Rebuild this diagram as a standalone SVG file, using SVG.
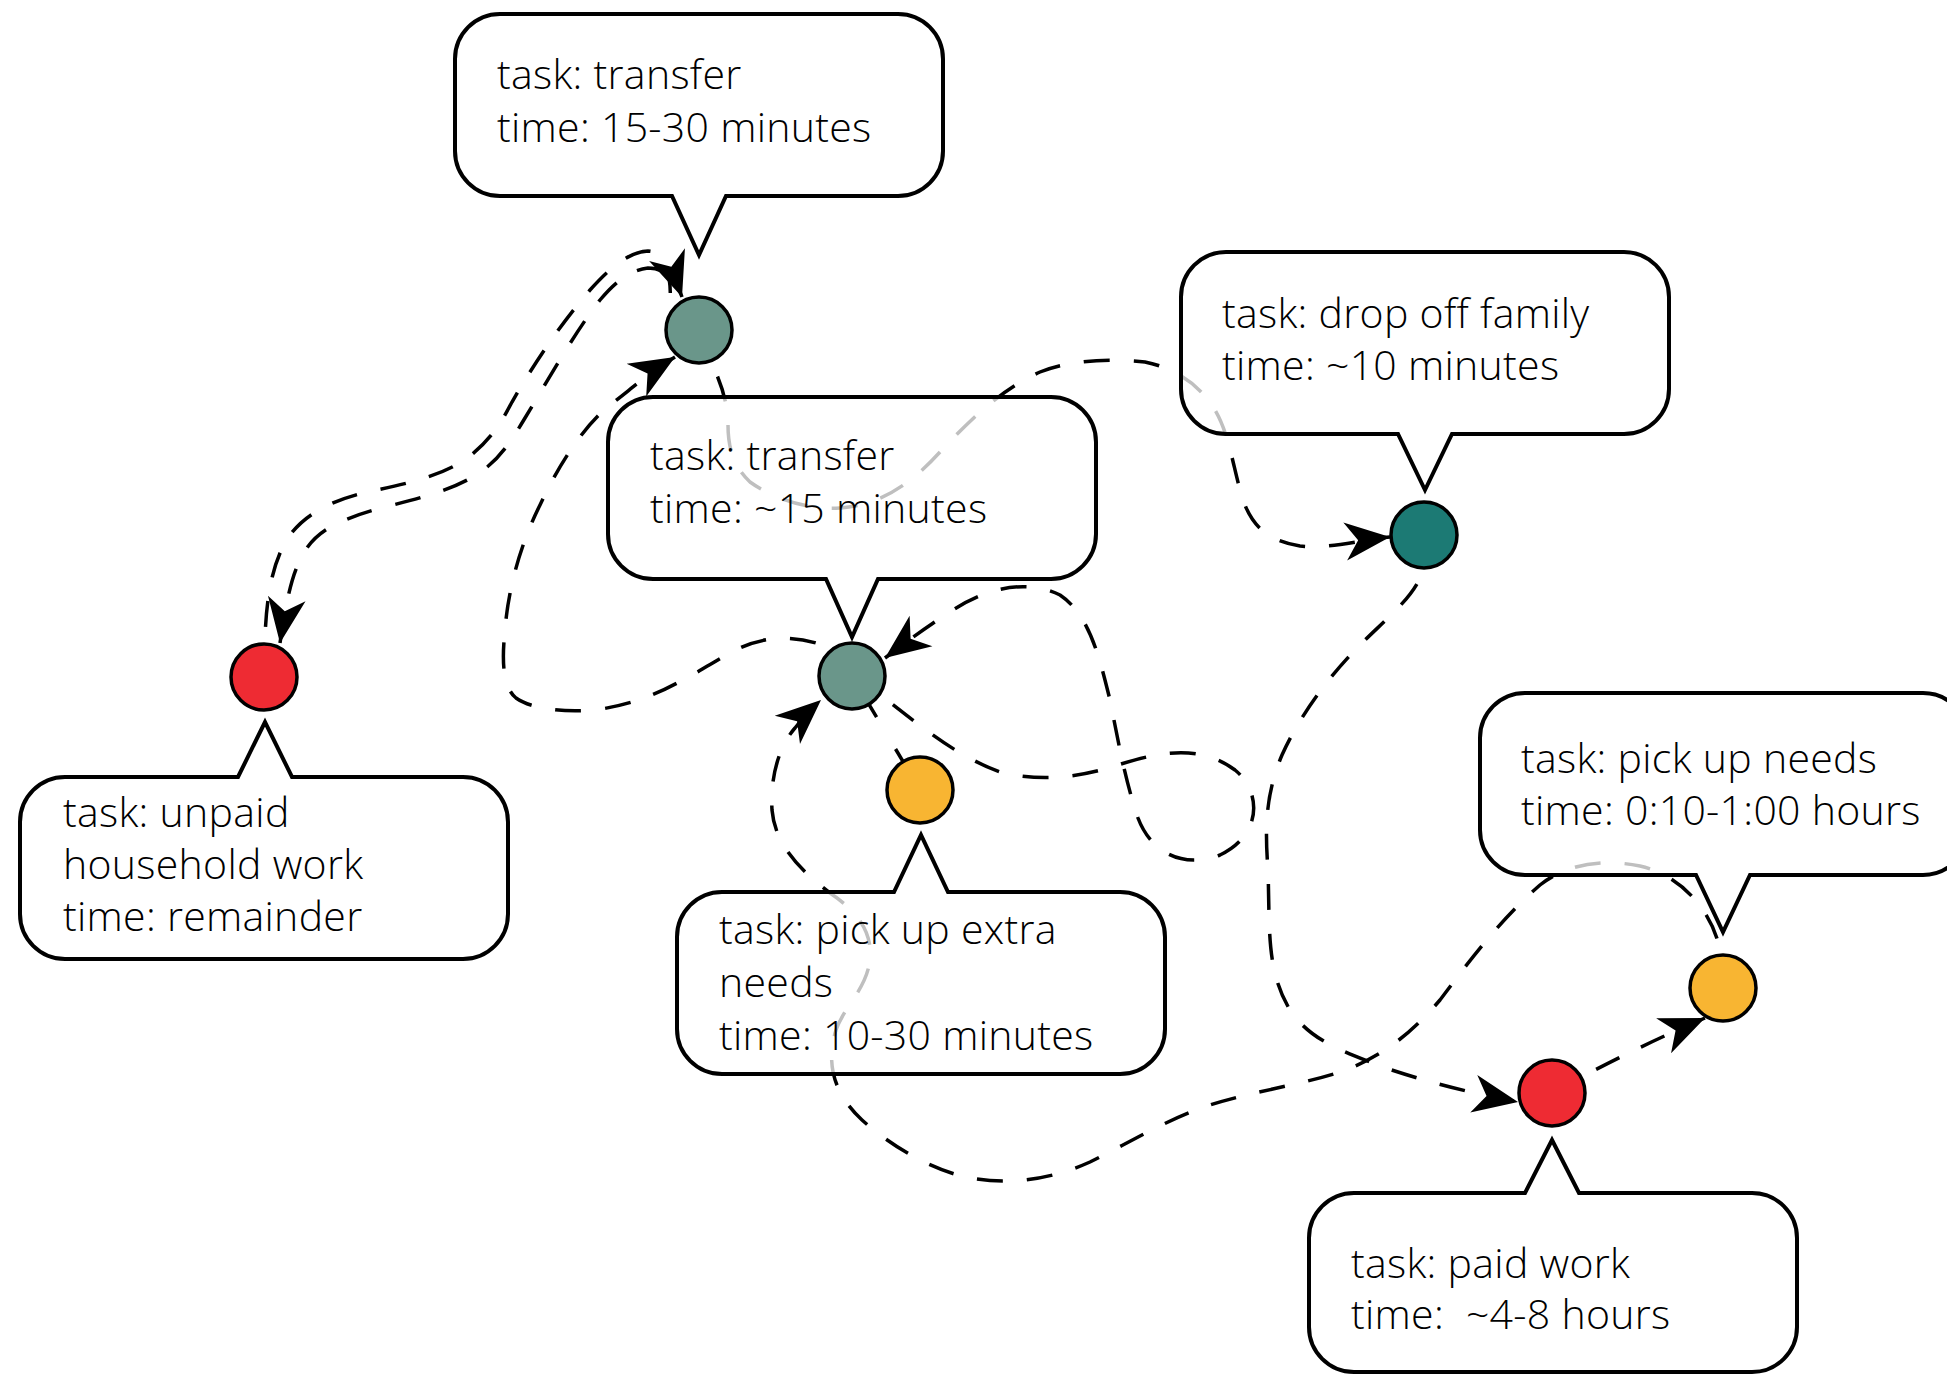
<svg xmlns="http://www.w3.org/2000/svg" width="1947" height="1375" viewBox="0 0 1947 1375">
  <defs>
    <style>
      .edge { fill: none; stroke: #000; stroke-width: 3.5; stroke-dasharray: 26 24; }
      .node { stroke: #000; stroke-width: 3.5; }
      .transfer { fill: #6a968a; }
      .drop { fill: #1c7a74; }
      .work { fill: #ee2b33; }
      .needs { fill: #f8b532; }
      .callout path { fill: #fff; fill-opacity: 0.75; stroke: #000; stroke-width: 4; stroke-linejoin: miter; }
      .callout text { font-family: "Open Sans", "Noto Sans", "DejaVu Sans", sans-serif; font-size: 41px; font-weight: 300; letter-spacing: 0.3px; fill: #000; }
    </style>
    <marker id="arrow" viewBox="-48 -22 50 44" refX="0" refY="0" markerWidth="50" markerHeight="44" markerUnits="userSpaceOnUse" orient="auto-start-reverse">
      <path d="M0,0 L-45,-19 L-32,0 L-45,19 Z" fill="#000" stroke="none"/>
    </marker>
  </defs>

  <!-- connectors -->
  <g id="connectors">
    <!-- household (outer track) -->
    <path id="e-household-outer" class="edge" d="M264,677 L265,640 C266,600 272,560 290,535 C305,515 330,500 372,491 C410,483 445,475 470,456 C490,440 500,425 512,402 C535,362 560,325 590,290 C610,268 628,252 648,251 C665,251 672,275 670,305 L699,330"/>
    <!-- household <-> transfer (inner track, both directions) -->
    <path id="e-household-inner" class="edge" marker-start="url(#arrow)" marker-end="url(#arrow)" d="M280,643 C285,610 290,580 300,560 C312,535 330,522 381,508 C420,498 455,490 482,471 C500,458 510,443 525,418 C548,380 575,332 600,300 C615,282 630,270 648,268 C665,268 676,280 682,297"/>
    <!-- transfer (middle) -> transfer (top) -->
    <path id="e-b-a" class="edge" marker-end="url(#arrow)" d="M852,676 L822,645 C800,637 770,634 740,648 C715,660 700,672 679,682 C655,695 630,705 595,710 C560,713 530,708 516,698 C500,685 503,650 505,630 C508,590 520,545 540,505 C560,462 585,425 610,405 C630,390 650,372 675,357"/>
    <!-- transfer (top) -> drop off family -->
    <path id="e-a-c" class="edge" marker-end="url(#arrow)" d="M699,330 L712,364 C722,385 728,405 728,425 C728,445 732,465 750,482 C775,500 810,510 840,508 C880,505 910,485 940,452 C970,420 1000,390 1040,372 C1070,360 1110,358 1145,362 C1175,368 1200,385 1215,410 C1228,432 1232,460 1240,490 C1248,520 1262,540 1300,546 C1330,549 1360,540 1390,537"/>
    <!-- transfer (middle) self loop -->
    <path id="e-b-b" class="edge" marker-end="url(#arrow)" d="M852,676 C900,705 940,750 1000,772 C1040,782 1080,778 1121,764 C1160,752 1200,744 1235,770 C1262,792 1262,835 1220,855 C1180,870 1150,850 1138,818 C1125,780 1118,740 1110,700 C1100,660 1090,615 1060,595 C1030,580 990,585 950,612 C925,628 905,643 885,658"/>
    <!-- drop off family -> paid work -->
    <path id="e-c-f" class="edge" marker-end="url(#arrow)" d="M1424,535 L1420,578 C1410,600 1385,620 1360,645 C1330,675 1300,715 1282,755 C1265,795 1265,830 1268,870 C1270,930 1266,970 1290,1010 C1310,1040 1340,1050 1380,1066 C1420,1080 1470,1093 1518,1102"/>
    <!-- pick up needs -> transfer (middle) -->
    <path id="e-e-b" class="edge" marker-end="url(#arrow)" d="M1723,988 L1720,950 C1712,910 1680,875 1640,866 C1600,858 1565,865 1540,885 C1500,920 1470,960 1440,1000 C1410,1035 1380,1058 1340,1072 C1300,1085 1250,1092 1210,1105 C1170,1118 1130,1142 1090,1162 C1050,1180 1010,1185 970,1178 C930,1170 890,1145 862,1120 C835,1095 825,1065 836,1030 C845,1005 866,990 870,960 C873,930 855,910 830,893 C800,870 775,845 772,810 C770,775 780,745 795,728 C805,716 812,708 821,700"/>
    <!-- paid work -> pick up needs -->
    <path id="e-f-e" class="edge" marker-end="url(#arrow)" d="M1552,1093 Q1630,1050 1705,1018"/>
    <!-- transfer (middle) - pick up extra needs -->
    <path id="e-b-d" class="edge" style="stroke-dasharray: 48 37 48" d="M852,676 L920,790"/>
  </g>

  <!-- nodes -->
  <g id="node-transfer-top"><circle class="node transfer" cx="699" cy="330" r="33"/></g>
  <g id="node-transfer-mid"><circle class="node transfer" cx="852" cy="676" r="33"/></g>
  <g id="node-drop-off"><circle class="node drop" cx="1424" cy="535" r="33"/></g>
  <g id="node-household"><circle class="node work" cx="264" cy="677" r="33"/></g>
  <g id="node-extra-needs"><circle class="node needs" cx="920" cy="790" r="33"/></g>
  <g id="node-pick-up"><circle class="node needs" cx="1723" cy="988" r="33"/></g>
  <g id="node-paid-work"><circle class="node work" cx="1552" cy="1093" r="33"/></g>

  <!-- callouts -->
  <g id="label-transfer-top" class="callout">
    <path d="M500,14 H898 A45,45 0 0 1 943,59 V151 A45,45 0 0 1 898,196 H726 L699,255 L672,196 H500 A45,45 0 0 1 455,151 V59 A45,45 0 0 1 500,14 Z"/>
    <text x="497" y="89">task: transfer</text>
    <text x="497" y="142">time: 15-30 minutes</text>
  </g>
  <g id="label-transfer-mid" class="callout">
    <path d="M653,397 H1051 A45,45 0 0 1 1096,442 V534 A45,45 0 0 1 1051,579 H878 L852,637 L826,579 H653 A45,45 0 0 1 608,534 V442 A45,45 0 0 1 653,397 Z"/>
    <text x="650" y="470">task: transfer</text>
    <text x="650" y="523">time: ~15 minutes</text>
  </g>
  <g id="label-drop-off" class="callout">
    <path d="M1226,252 H1624 A45,45 0 0 1 1669,297 V389 A45,45 0 0 1 1624,434 H1452 L1425,490 L1398,434 H1226 A45,45 0 0 1 1181,389 V297 A45,45 0 0 1 1226,252 Z"/>
    <text x="1222" y="328">task: drop off family</text>
    <text x="1222" y="380">time: ~10 minutes</text>
  </g>
  <g id="label-household" class="callout">
    <path d="M65,777 H238 L265,722 L292,777 H463 A45,45 0 0 1 508,822 V914 A45,45 0 0 1 463,959 H65 A45,45 0 0 1 20,914 V822 A45,45 0 0 1 65,777 Z"/>
    <text x="63" y="827">task: unpaid</text>
    <text x="63" y="879">household work</text>
    <text x="63" y="931">time: remainder</text>
  </g>
  <g id="label-extra-needs" class="callout">
    <path d="M722,892 H894 L921,835 L948,892 H1120 A45,45 0 0 1 1165,937 V1029 A45,45 0 0 1 1120,1074 H722 A45,45 0 0 1 677,1029 V937 A45,45 0 0 1 722,892 Z"/>
    <text x="719" y="944">task: pick up extra</text>
    <text x="719" y="997">needs</text>
    <text x="719" y="1050">time: 10-30 minutes</text>
  </g>
  <g id="label-pick-up" class="callout">
    <path d="M1525,693 H1923 A45,45 0 0 1 1968,738 V830 A45,45 0 0 1 1923,875 H1750 L1723,932 L1696,875 H1525 A45,45 0 0 1 1480,830 V738 A45,45 0 0 1 1525,693 Z"/>
    <text x="1521" y="773">task: pick up needs</text>
    <text x="1521" y="825">time: 0:10-1:00 hours</text>
  </g>
  <g id="label-paid-work" class="callout">
    <path d="M1354,1193 H1525 L1552,1140 L1579,1193 H1752 A45,45 0 0 1 1797,1238 V1327 A45,45 0 0 1 1752,1372 H1354 A45,45 0 0 1 1309,1327 V1238 A45,45 0 0 1 1354,1193 Z"/>
    <text x="1351" y="1278">task: paid work</text>
    <text x="1351" y="1329" xml:space="preserve">time:  ~4-8 hours</text>
  </g>
</svg>
